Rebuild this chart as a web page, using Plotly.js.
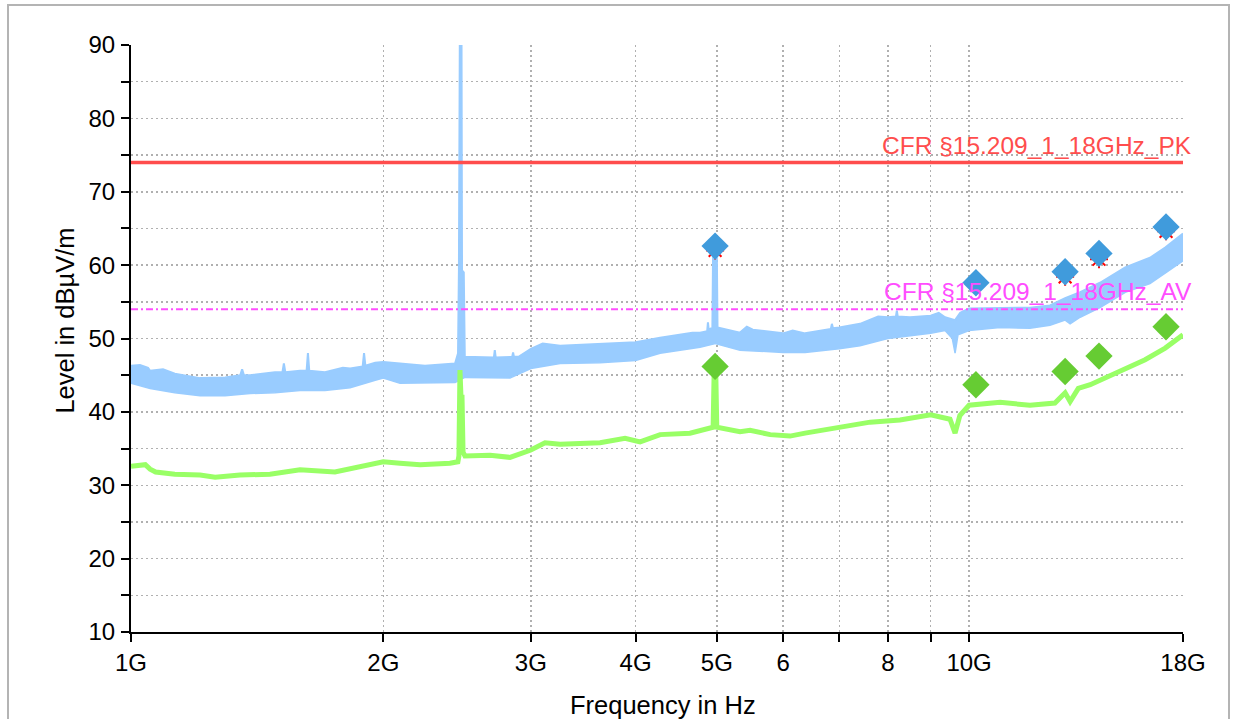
<!DOCTYPE html>
<html>
<head>
<meta charset="utf-8">
<script src="https://cdn.plot.ly/plotly-3.0.1.min.js"></script>
<style>
  html, body { margin: 0; padding: 0; background: #ffffff; }
  #wrap { position: relative; width: 1233px; height: 719px; overflow: hidden; }
  #chart { position: absolute; left: 0; top: 0; width: 1233px; height: 719px; }
  #frame { position: absolute; left: 7px; top: 4px; width: 1223px; height: 740px;
           border: 2px solid #b4b4b4; pointer-events: none; box-sizing: border-box; }
</style>
</head>
<body>
<div id="wrap"><div id="chart"></div><div id="frame"></div></div>
<script>
// ---------------- data (frequency in GHz, level in dBµV/m) ----------------
// Peak trace: upper and lower envelope of the noisy spectrum band
const pkHiFreq = [1.000, 1.025, 1.048, 1.054, 1.092, 1.128, 1.209, 1.295, 1.350, 1.357, 1.364, 1.387, 1.485, 1.516, 1.522, 1.528, 1.591, 1.620, 1.626, 1.632, 1.704, 1.790, 1.826, 1.890, 1.897, 1.904, 1.956, 2.000, 2.094, 2.243, 2.370, 2.436, 2.456, 2.462, 2.469, 2.479, 2.483, 2.495, 2.502, 2.682, 2.710, 2.717, 2.724, 2.850, 2.857, 2.864, 2.900, 3.000, 3.099, 3.251, 3.628, 4.000, 4.279, 4.676, 4.775, 4.870, 4.880, 4.890, 4.940, 4.950, 5.000, 5.010, 5.330, 5.430, 5.520, 6.000, 6.160, 6.373, 6.840, 6.860, 6.880, 7.000, 7.411, 7.790, 8.000, 8.180, 8.200, 8.220, 8.503, 9.000, 9.200, 9.362, 9.623, 9.760, 10.00, 10.89, 11.82, 12.49, 13.02, 13.57, 14.33, 15.36, 16.44, 17.14, 18.00];
const pkHi     = [46.3, 46.4, 46.0, 45.6, 45.8, 45.2, 44.6, 44.7, 45.0, 45.8, 45.0, 45.0, 45.4, 45.4, 46.6, 45.4, 45.6, 45.6, 48.0, 45.6, 45.4, 46.0, 45.9, 46.2, 48.0, 46.3, 46.7, 46.8, 46.6, 46.3, 46.5, 46.6, 48.0, 59.3, 96.0, 96.0, 59.3, 59.0, 47.5, 47.4, 47.4, 48.4, 47.4, 47.5, 48.1, 47.5, 47.5, 48.6, 49.3, 49.0, 49.3, 49.5, 50.1, 50.8, 50.8, 51.0, 52.2, 51.2, 51.5, 62.3, 62.3, 51.5, 50.8, 51.6, 51.2, 50.7, 51.1, 50.7, 51.3, 52.0, 51.4, 51.5, 52.0, 53.0, 52.9, 53.0, 53.8, 53.0, 52.9, 53.1, 53.5, 52.9, 52.5, 53.5, 54.1, 54.1, 54.2, 54.5, 55.5, 56.3, 57.6, 59.7, 61.0, 62.4, 64.3];
const pkLoFreq = [1.000, 1.054, 1.128, 1.209, 1.295, 1.387, 1.485, 1.591, 1.704, 1.826, 1.956, 2.000, 2.094, 2.243, 2.436, 2.503, 2.682, 2.833, 3.000, 3.251, 3.628, 4.000, 4.279, 4.775, 4.980, 5.330, 6.000, 6.373, 7.000, 7.411, 8.000, 8.503, 9.000, 9.362, 9.550, 9.623, 9.700, 10.00, 10.89, 11.82, 12.49, 13.02, 13.20, 13.57, 14.33, 15.36, 16.44, 17.14, 18.00];
const pkLo     = [43.9, 43.2, 42.6, 42.2, 42.2, 42.5, 42.6, 42.9, 42.9, 43.3, 44.3, 44.6, 43.9, 43.9, 44.0, 44.7, 44.7, 44.6, 45.9, 46.6, 46.7, 47.0, 48.0, 48.8, 49.3, 48.4, 48.1, 48.1, 48.6, 49.0, 50.0, 50.4, 50.7, 51.1, 50.0, 48.0, 50.5, 51.1, 51.5, 51.4, 51.8, 52.5, 52.0, 52.9, 54.2, 56.3, 57.5, 58.9, 60.6];
// Average trace
const avFreq = [1.000, 1.040, 1.054, 1.070, 1.128, 1.209, 1.260, 1.349, 1.465, 1.591, 1.751, 1.876, 2.000, 2.094, 2.213, 2.402, 2.455, 2.462, 2.469, 2.476, 2.483, 2.490, 2.503, 2.682, 2.833, 3.000, 3.119, 3.251, 3.628, 3.886, 4.050, 4.279, 4.645, 4.950, 4.965, 4.985, 5.000, 5.330, 5.479, 5.790, 6.114, 6.373, 7.000, 7.620, 8.270, 9.000, 9.490, 9.623, 9.750, 10.00, 10.89, 11.82, 12.66, 13.02, 13.20, 13.50, 13.95, 15.15, 16.22, 17.14, 18.00];
const avVal  = [32.6, 32.8, 32.2, 31.8, 31.5, 31.4, 31.1, 31.4, 31.5, 32.1, 31.8, 32.5, 33.2, 33.0, 32.8, 33.0, 33.2, 34.0, 45.7, 42.0, 42.0, 34.5, 34.0, 34.1, 33.8, 34.8, 35.8, 35.6, 35.8, 36.4, 35.9, 36.9, 37.1, 37.9, 46.0, 46.0, 37.9, 37.3, 37.5, 36.9, 36.7, 37.1, 37.8, 38.6, 38.9, 39.6, 39.0, 37.1, 39.5, 40.9, 41.3, 40.9, 41.2, 42.6, 41.4, 43.2, 43.7, 45.5, 47.1, 48.7, 50.5];
// Final measurement points
const finFreq = [4.977, 10.19, 13.02, 14.29, 17.18];
const finPk   = [62.6, 57.6, 59.1, 61.6, 65.2];
const finAv   = [46.2, 43.7, 45.5, 47.6, 51.6];
const critFreq = [4.977, 13.02, 14.29, 17.18];
const critPk   = [62.0, 58.4, 60.8, 64.6];
// Limit lines
const limitFreq = [1, 18];
const limitPk = [74, 74];
const limitAv = [54, 54];
const limitPkName = "CFR §15.209_1_18GHz_PK";
const limitAvName = "CFR §15.209_1_18GHz_AV";
// Axis ticks
const xTickVals = [1, 2, 3, 4, 5, 6, 7, 8, 9, 10, 18];
const xTickText = ["1G", "2G", "3G", "4G", "5G", "6", "", "8", "", "10G", "18G"];
const yTickVals = [10, 15, 20, 25, 30, 35, 40, 45, 50, 55, 60, 65, 70, 75, 80, 85, 90];
const yTickText = yTickVals.map(v => (v % 10 === 0 ? String(v) : ""));
const xTitle = "Frequency in Hz";
const yTitle = "Level in dBµV/m";

// ---------------- styles ----------------
const FONT = "Liberation Sans, Arial, sans-serif";
const cBand = "rgb(153,204,255)";
const cAvg = "rgb(153,255,102)";
const cPkMk = "rgb(64,155,220)";
const cAvMk = "rgb(102,204,51)";
const cRed = "rgb(255,77,77)";
const cMag = "rgb(255,77,255)";
const xr = [0, Math.log10(18)];
const yr = [10, 90];

const traces = [
  { x: pkLoFreq, y: pkLo, type: "scatter", mode: "lines", line: { color: cBand, width: 1.5 }, hoverinfo: "skip" },
  { x: pkHiFreq, y: pkHi, type: "scatter", mode: "lines", line: { color: cBand, width: 2 }, fill: "tonexty", fillcolor: cBand, hoverinfo: "skip" },
  { x: avFreq, y: avVal, type: "scatter", mode: "lines", line: { color: cAvg, width: 5 }, hoverinfo: "skip" },
  { x: limitFreq, y: limitAv, type: "scatter", mode: "lines", line: { color: cMag, width: 2, dash: "7px,3px,2px,3px" } },
  { x: limitFreq, y: limitPk, type: "scatter", mode: "lines", line: { color: cRed, width: 3.5 } },
  { x: critFreq, y: critPk, type: "scatter", mode: "markers", marker: { symbol: "asterisk-open", size: 15, color: "red", line: { color: "red", width: 2 } } },
  { x: finFreq, y: finPk, type: "scatter", mode: "markers", marker: { symbol: "diamond", size: 21, color: cPkMk } },
  { x: finFreq, y: finAv, type: "scatter", mode: "markers", marker: { symbol: "diamond", size: 21, color: cAvMk } }
];

const axisCommon = { showline: true, linecolor: "black", linewidth: 2, ticks: "outside", ticklen: 8, tickwidth: 2, tickcolor: "black", zeroline: false };

const layout = {
  width: 1233, height: 719,
  margin: { l: 131, r: 50, t: 45, b: 87, pad: 0 },
  paper_bgcolor: "rgba(0,0,0,0)", plot_bgcolor: "white",
  showlegend: false,
  font: { family: FONT, size: 24, color: "black" },
  xaxis: Object.assign({}, axisCommon, {
    type: "log", range: xr, tickmode: "array", tickvals: xTickVals, ticktext: xTickText,
    showgrid: true, gridcolor: "#b0b0b0", gridwidth: 1.5, griddash: "2px,3px",
    tickfont: { size: 24 }, fixedrange: true
  }),
  yaxis: Object.assign({}, axisCommon, {
    range: yr, tickmode: "array", tickvals: yTickVals, ticktext: yTickText,
    showgrid: true, gridcolor: "#b0b0b0", gridwidth: 1.5, griddash: "2px,3px",
    tickfont: { size: 24 }, ticklabelstandoff: 1, fixedrange: true
  }),
  xaxis2: { type: "log", range: xr, overlaying: "x", anchor: "y", side: "bottom", tickmode: "array", tickvals: xTickVals,
            ticks: "inside", ticklen: 8, tickwidth: 2, tickcolor: "black", showticklabels: false, showgrid: false, showline: false, zeroline: false },
  yaxis2: { range: yr, overlaying: "y", anchor: "x", side: "left", tickmode: "array", tickvals: yTickVals,
            ticks: "inside", ticklen: 8, tickwidth: 2, tickcolor: "black", showticklabels: false, showgrid: false, showline: false, zeroline: false },
  annotations: [
    { text: limitPkName, xref: "paper", x: 1, xanchor: "right", xshift: 11, yref: "y", y: limitPk[0], yanchor: "bottom", yshift: 1,
      showarrow: false, font: { family: FONT, size: 24.5, color: cRed } },
    { text: limitAvName, xref: "paper", x: 1, xanchor: "right", xshift: 11, yref: "y", y: limitAv[0], yanchor: "bottom", yshift: 2,
      showarrow: false, font: { family: FONT, size: 24.5, color: cMag } },
    { text: xTitle, xref: "paper", x: 0.5057, xanchor: "center", yref: "paper", y: -0.1244, yanchor: "middle",
      showarrow: false, font: { family: FONT, size: 25.5, color: "black" } },
    { text: yTitle, xref: "paper", x: -0.063, xanchor: "center", yref: "paper", y: 0.53, yanchor: "middle", textangle: -90,
      showarrow: false, font: { family: FONT, size: 25.5, color: "black" } }
  ]
};

Plotly.newPlot("chart", traces, layout, { staticPlot: true, displayModeBar: false });
</script>
</body>
</html>
